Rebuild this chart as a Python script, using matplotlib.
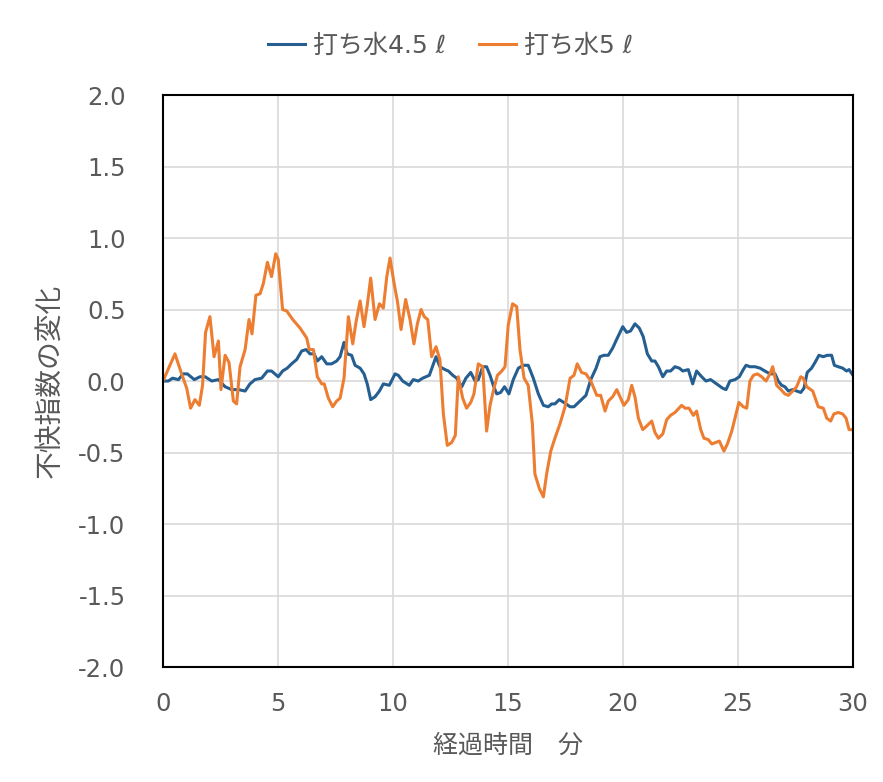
import numpy as np
import matplotlib
matplotlib.use('Agg')
import matplotlib.pyplot as plt

plt.rcParams['font.family'] = ['Noto Sans CJK JP', 'DejaVu Sans']
plt.rcParams['axes.unicode_minus'] = False

# values (minutes, change of discomfort index)
t_45 = [0.0, 0.23, 0.42, 0.67, 0.88, 1.06, 1.36, 1.61, 1.83, 2.12, 2.41, 2.7, 2.99, 3.28, 3.57,
        3.78, 4.0, 4.29, 4.54, 4.72, 5.01, 5.2, 5.4, 5.59, 5.81, 6.03, 6.22, 6.39, 6.57, 6.71,
        6.9, 7.12, 7.33, 7.55, 7.7, 7.87, 8.01, 8.2, 8.35, 8.57, 8.74, 8.88, 9.03, 9.22, 9.41,
        9.58, 9.84, 10.09, 10.23, 10.42, 10.71, 10.88, 11.1, 11.29, 11.43, 11.58, 11.87, 12.04,
        12.26, 12.41, 12.6, 12.77, 12.99, 13.17, 13.38, 13.57, 13.71, 13.9, 14.07, 14.22, 14.36,
        14.51, 14.68, 14.85, 15.04, 15.23, 15.45, 15.67, 15.88, 16.1, 16.32, 16.54, 16.75, 16.9,
        17.04, 17.23, 17.43, 17.7, 17.87, 18.13, 18.39, 18.6, 18.83, 19.0, 19.17, 19.36, 19.55,
        19.75, 19.99, 20.16, 20.33, 20.52, 20.71, 20.88, 21.06, 21.25, 21.39, 21.54, 21.73, 21.9,
        22.07, 22.26, 22.45, 22.6, 22.84, 23.03, 23.2, 23.42, 23.61, 23.81, 24.07, 24.33, 24.48,
        24.65, 24.87, 25.06, 25.23, 25.35, 25.52, 25.74, 25.96, 26.17, 26.39, 26.61, 26.75, 26.9,
        27.04, 27.19, 27.38, 27.55, 27.73, 27.87, 28.01, 28.2, 28.35, 28.52, 28.71, 28.88, 29.07,
        29.19, 29.36, 29.55, 29.72, 29.83, 30.0]
v_45 = [0.0, 0.0, 0.02, 0.01, 0.05, 0.05, 0.01, 0.03, 0.03, 0.0, 0.01, -0.04, -0.06, -0.06, -0.07,
        -0.02, 0.01, 0.02, 0.07, 0.07, 0.03, 0.07, 0.09, 0.12, 0.15, 0.21, 0.22, 0.19, 0.19, 0.14,
        0.17, 0.12, 0.12, 0.14, 0.17, 0.27, 0.19, 0.18, 0.11, 0.09, 0.05, -0.02, -0.13, -0.11, -0.07,
        -0.02, -0.03, 0.05, 0.04, 0.0, -0.03, 0.01, 0.0, 0.02, 0.03, 0.04, 0.17, 0.10,
        0.08, 0.07, 0.04, 0.02, -0.04, 0.02, 0.06, 0.0, 0.01, 0.10, 0.10, 0.04, -0.03,
        -0.09, -0.08, -0.04, -0.09, 0.01, 0.09, 0.11, 0.11, 0.02, -0.09, -0.17, -0.18, -0.16,
        -0.16, -0.13, -0.15, -0.18, -0.18, -0.14, -0.10, 0.01, 0.09, 0.17, 0.18, 0.18, 0.23,
        0.30, 0.38, 0.34, 0.35, 0.40, 0.37, 0.31, 0.19, 0.14, 0.14, 0.10, 0.03, 0.07,
        0.07, 0.10, 0.09, 0.07, 0.08, -0.02, 0.07, 0.03, 0.0, 0.01, -0.02, -0.05, -0.06,
        0.0, 0.01, 0.03, 0.08, 0.11, 0.10, 0.10, 0.09, 0.07, 0.05, 0.05, 0.0, -0.03,
        -0.04, -0.07, -0.06, -0.07, -0.08, -0.05, 0.06, 0.09, 0.13, 0.18, 0.17, 0.18, 0.18,
        0.11, 0.10, 0.09, 0.07, 0.08, 0.04]

t_5 = [0.0, 0.52, 0.81, 1.03, 1.2, 1.39, 1.58, 1.72, 1.85, 2.04, 2.22, 2.41, 2.52, 2.7, 2.87,
       3.06, 3.2, 3.35, 3.57, 3.74, 3.87, 4.04, 4.22, 4.36, 4.54, 4.72, 4.9, 5.01, 5.2, 5.38,
       5.64, 5.96, 6.25, 6.36, 6.54, 6.71, 6.9, 7.01, 7.19, 7.38, 7.55, 7.7, 7.87, 8.06, 8.25,
       8.39, 8.57, 8.74, 8.88, 9.03, 9.22, 9.41, 9.58, 9.73, 9.87, 10.04, 10.2, 10.35, 10.55,
       10.74, 10.91, 11.06, 11.22, 11.36, 11.51, 11.68, 11.87, 12.04, 12.19, 12.36, 12.55, 12.71,
       12.84, 13.03, 13.2, 13.38, 13.52, 13.71, 13.9, 14.07, 14.22, 14.36, 14.54, 14.73, 14.87,
       15.01, 15.2, 15.38, 15.52, 15.7, 15.88, 16.06, 16.17, 16.36, 16.54, 16.68, 16.86, 17.04,
       17.26, 17.48, 17.7, 17.87, 18.01, 18.2, 18.39, 18.6, 18.86, 19.03, 19.22, 19.36, 19.55,
       19.73, 19.87, 20.04, 20.23, 20.38, 20.52, 20.67, 20.86, 21.06, 21.25, 21.39, 21.54, 21.73,
       21.9, 22.07, 22.26, 22.55, 22.7, 22.87, 23.06, 23.2, 23.38, 23.52, 23.71, 23.86, 24.19,
       24.39, 24.54, 24.73, 24.87, 25.04, 25.23, 25.38, 25.52, 25.67, 25.84, 26.03, 26.22, 26.39,
       26.51, 26.68, 26.87, 27.04, 27.19, 27.38, 27.55, 27.73, 27.84, 27.99, 28.25, 28.49, 28.71,
       28.86, 29.03, 29.17, 29.36, 29.55, 29.7, 29.83, 30.0]
v_5 = [0.0, 0.19, 0.05, -0.05, -0.19, -0.13, -0.17, -0.03, 0.34, 0.45, 0.17, 0.28, -0.06, 0.18, 0.13,
       -0.14, -0.16, 0.10, 0.22, 0.43, 0.33, 0.60, 0.61, 0.68, 0.83, 0.73, 0.89, 0.85, 0.50, 0.49,
       0.43, 0.37, 0.30, 0.22, 0.22, 0.03, -0.02, -0.02, -0.12, -0.18, -0.14, -0.12, 0.02, 0.45, 0.26,
       0.41, 0.56, 0.38, 0.53, 0.72, 0.43, 0.54, 0.51, 0.73, 0.86, 0.69, 0.55, 0.36, 0.57,
       0.43, 0.26, 0.40, 0.50, 0.45, 0.43, 0.17, 0.24, 0.15, -0.23, -0.45, -0.43, -0.38,
       0.03, -0.12, -0.19, -0.15, -0.09, 0.12, 0.10, -0.35, -0.17, -0.07, 0.04, 0.07, 0.10,
       0.39, 0.54, 0.52, 0.22, 0.02, -0.03, -0.30, -0.65, -0.75, -0.81, -0.65, -0.49, -0.40,
       -0.30, -0.18, 0.02, 0.04, 0.12, 0.06, 0.05, 0.0, -0.10, -0.10, -0.21, -0.14, -0.11,
       -0.06, -0.11, -0.17, -0.13, -0.03, -0.11, -0.26, -0.34, -0.31, -0.28, -0.36, -0.40, -0.37,
       -0.27, -0.24, -0.22, -0.17, -0.19, -0.19, -0.24, -0.21, -0.34, -0.40, -0.41, -0.44, -0.42,
       -0.49, -0.44, -0.35, -0.26, -0.15, -0.18, -0.19, 0.0, 0.04, 0.05, 0.03, 0.0, 0.05,
       0.10, -0.03, -0.06, -0.09, -0.10, -0.07, -0.04, 0.03, 0.02, -0.04, -0.07, -0.18, -0.19,
       -0.26, -0.28, -0.23, -0.22, -0.23, -0.26, -0.34, -0.34]

labels = ['打ち水4.5 ℓ', '打ち水5 ℓ']
colors = ['#255e91', '#ed7d31']

xticks = [0, 5, 10, 15, 20, 25, 30]
yticks = np.arange(-2.0, 2.01, 0.5)
gray = '#595959'
latin = ['DejaVu Sans', 'Noto Sans CJK JP']  # Verdana-like digits, kana/kanji fall back

fig = plt.figure(figsize=(8.83, 7.82), dpi=100)
ax = fig.add_axes([0.1846, 0.147, 0.7814, 0.7315])

ax.plot(t_45, v_45, color=colors[0], lw=2.2, label=labels[0])
ax.plot(t_5, v_5, color=colors[1], lw=2.2, label=labels[1])

ax.set_xlim(0, 30)
ax.set_ylim(-2.0, 2.0)
ax.set_xticks(xticks)
ax.set_yticks(yticks)
ax.set_yticklabels(['%.1f' % y for y in yticks])
ax.grid(True, color='#d9d9d9', lw=1.2)
ax.set_axisbelow(True)
ax.tick_params(length=0, labelsize=17.5, colors=gray)
ax.tick_params(axis='y', pad=27)
ax.tick_params(axis='x', pad=18)
for lab in ax.get_xticklabels() + ax.get_yticklabels():
    lab.set_family(latin)
for s in ax.spines.values():
    s.set_color('black')
    s.set_linewidth(1.5)

ax.set_xlabel('経過時間\u3000分', fontsize=18, color=gray, labelpad=12)
ax.set_ylabel('不快指数の変化', fontsize=20, color=gray, labelpad=10)

fig.legend(loc='upper center', bbox_to_anchor=(0.51, 0.985), ncol=2, frameon=False,
           handlelength=1.5, columnspacing=1.3, handletextpad=0.3,
           labelcolor=gray, prop={'family': latin, 'size': 18})

fig.savefig('out.png', dpi=100)
